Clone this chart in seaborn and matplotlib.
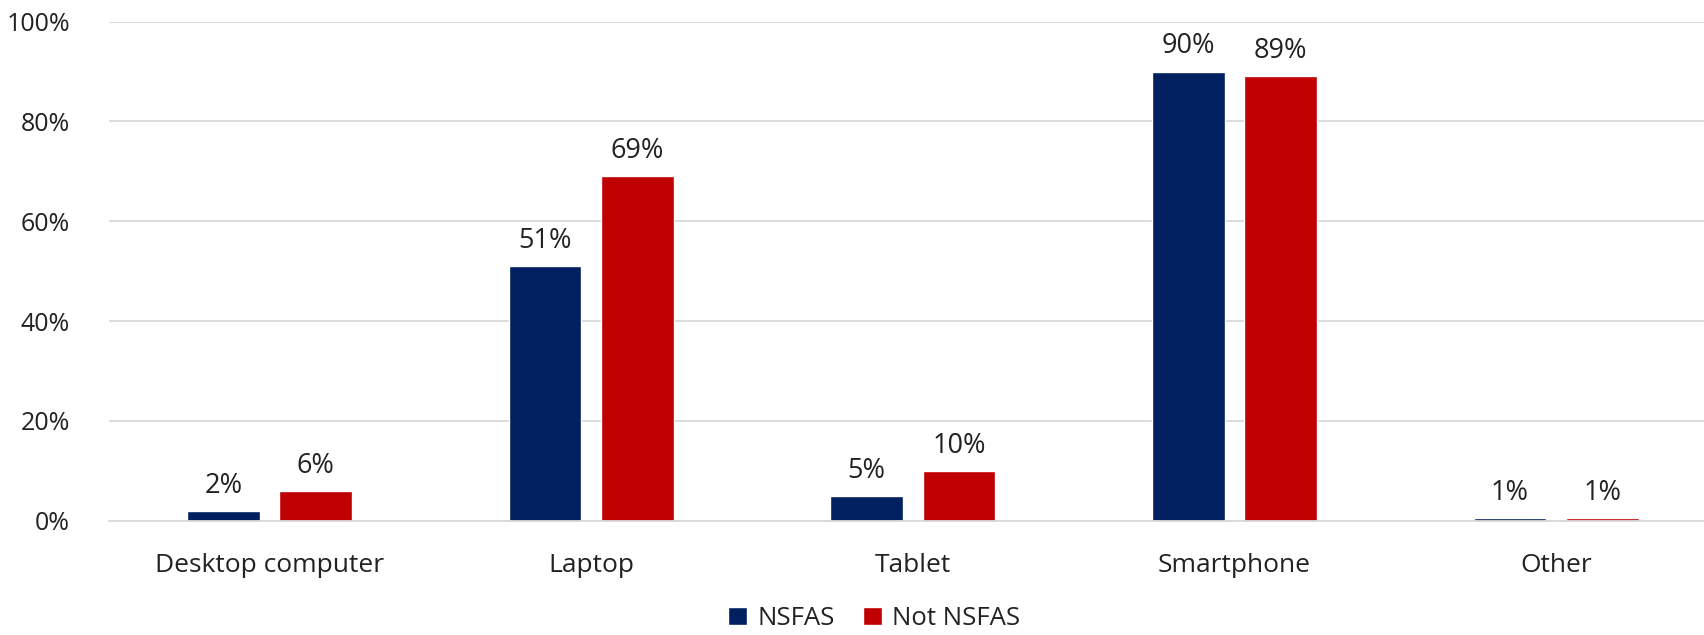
import matplotlib
matplotlib.use("Agg")
import matplotlib.pyplot as plt
import seaborn as sns
import pandas as pd
from matplotlib.patches import Patch

# Device ownership by funding status (percent of students)
devices = ["Desktop computer", "Laptop", "Tablet", "Smartphone", "Other"]
nsfas = [2, 51, 5, 90, 0.6]
not_nsfas = [6, 69, 10, 89, 0.6]
groups = ["NSFAS", "Not NSFAS"]
y_ticks = [0, 20, 40, 60, 80, 100]

colors = {"NSFAS": "#002060", "Not NSFAS": "#C00000"}

df = pd.DataFrame({
    "device": devices * 2,
    "group": [groups[0]] * len(devices) + [groups[1]] * len(devices),
    "value": nsfas + not_nsfas,
})

sns.set_theme(style="white")
plt.rcParams["font.family"] = ["Open Sans", "DejaVu Sans"]

fig = plt.figure(figsize=(17.04, 6.35), dpi=100)
ax = fig.add_axes([0.0638, 0.18, 0.9438, 0.786])

sns.barplot(data=df, x="device", y="value", hue="group", order=devices,
            hue_order=groups, palette=colors, width=0.574, gap=0.21,
            saturation=1, errorbar=None, legend=False, ax=ax)

for container in ax.containers:
    ax.bar_label(container, labels=[f"{round(v)}%" for v in container.datavalues],
                 padding=8, fontsize=19.5, color="#222222")

ax.set_ylim(0, 100)
ax.set_xlim(-0.5, len(devices) - 0.5)
ax.set_yticks(y_ticks)
ax.set_yticklabels([f"{t}%" for t in y_ticks])
ax.yaxis.grid(True, color="#d9d9d9", linewidth=1.3)
ax.set_axisbelow(True)
for s in ["top", "right", "left"]:
    ax.spines[s].set_visible(False)
ax.spines["bottom"].set_color("#d9d9d9")
ax.spines["bottom"].set_linewidth(1.3)
ax.tick_params(axis="both", length=0, colors="#222222")
ax.tick_params(axis="y", labelsize=18, pad=28)
ax.tick_params(axis="x", labelsize=19, pad=23)
ax.set_xlabel("")
ax.set_ylabel("")

handles = [Patch(facecolor=colors[g], label=g) for g in groups]
fig.legend(handles=handles, loc="lower center", bbox_to_anchor=(0.513, -0.03),
           ncol=2, frameon=False, fontsize=18.5, handlelength=0.75, handleheight=0.75,
           handletextpad=0.4, columnspacing=1.1, labelcolor="#222222")

fig.savefig("out.png", dpi=100)
